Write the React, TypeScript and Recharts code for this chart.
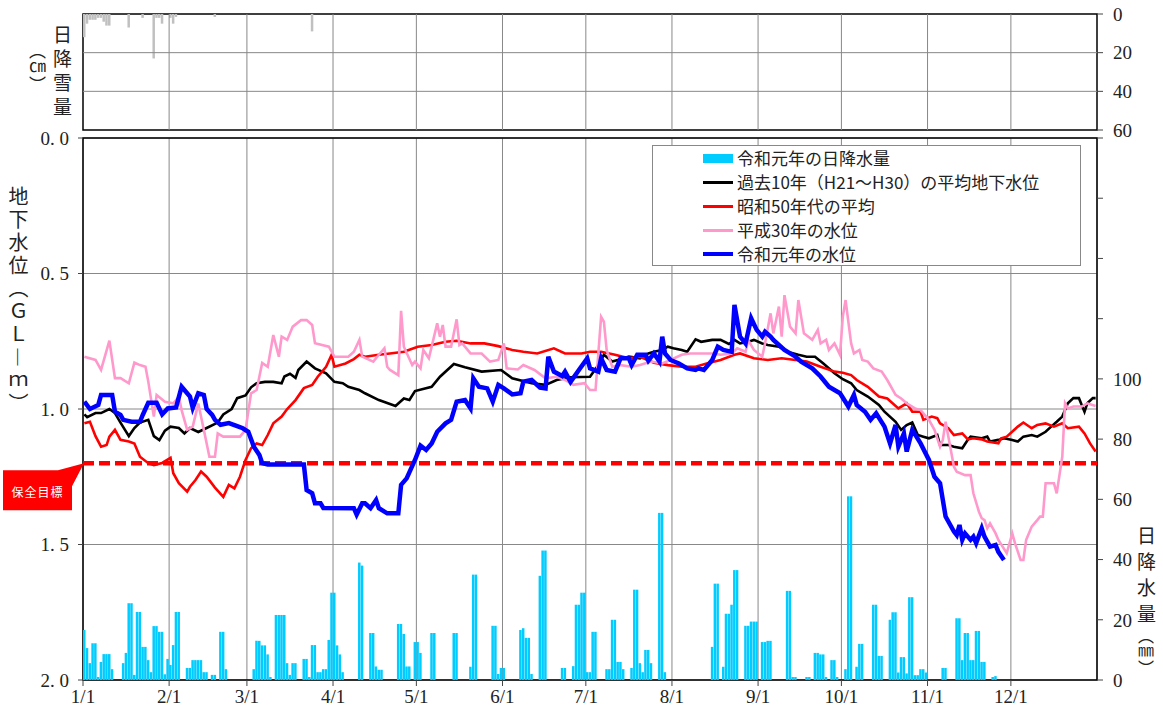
import React from 'react'
import { ComposedChart, Bar, Line, XAxis, YAxis, CartesianGrid, ReferenceLine, ReferenceArea, Legend } from 'recharts'

// day index: 0 = 1/1 ... 364 = 12/31 (2019)
const monthStarts = [0, 31, 59, 90, 120, 151, 181, 212, 243, 273, 304, 334]
const monthLabels = ['1/1', '2/1', '3/1', '4/1', '5/1', '6/1', '7/1', '8/1', '9/1', '10/1', '11/1', '12/1']
const depthTicks = [0, 0.5, 1, 1.5, 2]
const rainTicks = [0, 20, 40, 60, 80, 100, 120, 140, 160, 180]
const snowTicks = [0, 20, 40, 60]
const targetLevel = 1.2

// [day, cm]
const snowfall: [number, number][] = [
  [0, 12], [1, 5], [2, 3], [3, 3], [4, 3], [5, 2], [6, 2], [7, 4], [8, 6], [9, 6],
  [16, 7], [21, 2], [25, 23], [26, 2], [27, 2], [28, 5], [31, 2], [32, 5], [33, 1.5],
  [47, 1.5], [82, 9],
]

// [day, mm]
const rainfall: [number, number][] = [
  [0, 16.6], [1, 10.6], [2, 5.6], [3, 12.2], [4, 12.2], [5, 1], [6, 6], [7, 8.6], [8, 8.6], [9, 8.6], [10, 3.6],
  [14, 5.6], [15, 9], [16, 25.5], [17, 25.5], [18, 1.7], [19, 22.6], [20, 22.6], [21, 11], [22, 11], [23, 6.6],
  [24, 2.6], [25, 17.9], [26, 17.9], [27, 16], [28, 16], [29, 1.9], [30, 7], [31, 5], [32, 11.6], [33, 22.6], [34, 22.6],
  [37, 4], [38, 4], [39, 6.6], [40, 6.6], [41, 6.6], [42, 6.6], [43, 2.6], [44, 2.6], [46, 1.7], [47, 1.7],
  [49, 16], [50, 16], [51, 3.6],
  [61, 3.6], [62, 13], [63, 13], [64, 11.5], [65, 11.5], [66, 8.5], [67, 1],
  [69, 21.6], [70, 21.6], [71, 21.6], [72, 21.6], [73, 5.6], [74, 1.7], [75, 5.6], [76, 5.6],
  [79, 7], [80, 7], [81, 1], [82, 11.6], [83, 11.6], [84, 2.6], [85, 2.6], [86, 3.6], [87, 3.6], [88, 13.3],
  [89, 29], [90, 29], [91, 11.5], [92, 8.5], [93, 2.6],
  [99, 39], [100, 38], [103, 15.6], [104, 15.6], [105, 4.5], [106, 3.4], [107, 3.4],
  [113, 18.6], [114, 18.6], [115, 15.3], [116, 4.5], [117, 4.5], [119, 12.6], [120, 12.6], [121, 9],
  [125, 15.6], [126, 15.6], [133, 15.6], [134, 15.6], [139, 4.4], [140, 35], [141, 35],
  [147, 18], [148, 18], [149, 2], [150, 4], [151, 4],
  [157, 16.6], [158, 17.2], [159, 14], [160, 14], [161, 2], [164, 34.6], [165, 43], [166, 43],
  [172, 4], [173, 4], [176, 4.6], [177, 25], [178, 25], [179, 29], [180, 29], [181, 2.6], [182, 2.6], [183, 16], [184, 16],
  [188, 3.6], [189, 3.6], [190, 20], [191, 20], [192, 6], [193, 6], [194, 3.6],
  [197, 4], [198, 30], [199, 30], [200, 5.6], [201, 2.6], [202, 10], [203, 10], [204, 5.6],
  [207, 55.5], [208, 55.5], [209, 2.6],
  [226, 11], [227, 32], [228, 32], [230, 4.4], [231, 22], [232, 22], [233, 25], [234, 36.5], [235, 36.5],
  [238, 18], [239, 18], [240, 19.4], [241, 19.4], [242, 19.4], [244, 12.6], [245, 12.6], [246, 13], [247, 13],
  [253, 29.6], [254, 29.6], [255, 1], [256, 1], [260, 1], [261, 1], [263, 9], [264, 9], [265, 8.5], [266, 8.5],
  [267, 1], [269, 6.6], [270, 6.6], [271, 1],
  [274, 3.6], [275, 61], [276, 61], [278, 4.4], [279, 12], [280, 12], [284, 25], [285, 25], [286, 8], [287, 8],
  [290, 20], [291, 22.5], [292, 22.5], [293, 2.5], [294, 7.6], [295, 7.6], [296, 2.2], [297, 27.5], [298, 27.5],
  [299, 1.6], [300, 1.6], [301, 3.6], [302, 3.6], [303, 2.5],
  [309, 4], [310, 4], [314, 20.5], [315, 20.5], [316, 6.6], [317, 15.6], [318, 15.6], [319, 6.6], [320, 6.6],
  [321, 16.3], [322, 16.3], [323, 6], [324, 6], [327, 1], [328, 1.3],
]

// groundwater level, GL -m : [day, m]
const avgH21H30: [number, number][] = [
  [0, 1.02], [1, 1.03], [4, 1.015], [6, 1.015], [9, 1.0], [11, 1.015], [13, 1.05], [16, 1.1], [18, 1.07], [20, 1.05],
  [23, 1.04], [25, 1.1], [27, 1.115], [29, 1.08], [31, 1.065], [34, 1.07], [36, 1.09], [38, 1.07], [41, 1.085],
  [44, 1.07], [48, 1.05], [50, 1.02], [53, 1.0], [55, 0.96], [58, 0.95], [60, 0.92], [62, 0.905], [65, 0.9], [68, 0.9],
  [71, 0.905], [72, 0.88], [74, 0.87], [76, 0.885], [77, 0.856], [80, 0.825], [83, 0.85], [87, 0.868], [90, 0.9],
  [93, 0.905], [95, 0.918], [99, 0.93], [101, 0.942], [106, 0.967], [112, 0.989], [115, 0.961], [117, 0.967],
  [119, 0.934], [125, 0.918], [128, 0.881], [133, 0.834], [137, 0.846], [143, 0.862], [150, 0.856], [154, 0.887],
  [161, 0.905], [166, 0.911], [170, 0.893], [175, 0.883], [182, 0.881], [185, 0.838], [187, 0.8], [190, 0.825],
  [192, 0.819], [196, 0.807], [200, 0.813], [203, 0.795], [205, 0.789], [208, 0.782], [210, 0.77], [212, 0.776],
  [215, 0.782], [217, 0.789], [220, 0.743], [222, 0.752], [226, 0.745], [229, 0.745], [232, 0.76], [234, 0.745],
  [236, 0.758], [239, 0.752], [241, 0.745], [244, 0.758], [246, 0.764], [250, 0.77], [253, 0.789], [257, 0.8],
  [260, 0.807], [263, 0.807], [266, 0.832], [270, 0.868], [273, 0.89], [276, 0.905], [278, 0.93], [282, 0.954],
  [286, 0.985], [288, 1.01], [292, 1.047], [294, 1.077], [296, 1.059], [298, 1.05], [300, 1.096], [302, 1.102],
  [304, 1.108], [307, 1.096], [308, 1.133], [311, 1.133], [313, 1.139], [316, 1.145], [318, 1.114], [319, 1.102],
  [323, 1.108], [325, 1.102], [326, 1.12], [329, 1.114], [331, 1.108], [334, 1.114], [336, 1.12], [338, 1.102],
  [341, 1.096], [343, 1.102], [346, 1.084], [348, 1.065], [350, 1.047], [352, 1.028], [354, 0.979], [356, 0.96],
  [358, 0.96], [359, 0.985], [360, 1.01], [361, 0.979], [363, 0.96], [364, 0.96],
]

const showa50s: [number, number][] = [
  [0, 1.053], [2, 1.047], [4, 1.1], [6, 1.139], [8, 1.133], [9, 1.102], [11, 1.077], [13, 1.114], [16, 1.12],
  [18, 1.127], [20, 1.176], [23, 1.2], [25, 1.207], [28, 1.199], [31, 1.18], [32, 1.237], [34, 1.274], [37, 1.305],
  [38, 1.287], [40, 1.262], [42, 1.231], [44, 1.25], [47, 1.29], [50, 1.324], [52, 1.28], [54, 1.293], [56, 1.25],
  [58, 1.188], [60, 1.145], [62, 1.127], [64, 1.133], [66, 1.096], [68, 1.053], [71, 1.028], [73, 1.0], [76, 0.967],
  [79, 0.923], [82, 0.911], [84, 0.881], [87, 0.844], [89, 0.8], [90, 0.844], [94, 0.832], [97, 0.816], [99, 0.8],
  [101, 0.807], [106, 0.8], [110, 0.795], [115, 0.789], [120, 0.77], [125, 0.764], [130, 0.752], [134, 0.748],
  [139, 0.758], [144, 0.758], [149, 0.768], [154, 0.782], [158, 0.789], [163, 0.795], [169, 0.776], [173, 0.795],
  [179, 0.795], [182, 0.789], [186, 0.789], [191, 0.8], [196, 0.813], [200, 0.807], [205, 0.829], [210, 0.838],
  [215, 0.844], [220, 0.844], [224, 0.832], [229, 0.819], [234, 0.8], [236, 0.795], [241, 0.813], [246, 0.819],
  [251, 0.813], [256, 0.819], [260, 0.825], [265, 0.844], [270, 0.862], [273, 0.866], [276, 0.875], [278, 0.893],
  [282, 0.918], [286, 0.954], [289, 0.961], [293, 0.998], [296, 0.979], [298, 1.01], [301, 1.01], [302, 1.04],
  [305, 1.028], [307, 1.034], [308, 1.053], [311, 1.071], [313, 1.096], [316, 1.09], [318, 1.112], [320, 1.108],
  [323, 1.112], [325, 1.12], [329, 1.127], [330, 1.108], [332, 1.102], [336, 1.065], [338, 1.05], [341, 1.071],
  [343, 1.059], [346, 1.053], [349, 1.065], [352, 1.053], [354, 1.071], [358, 1.065], [360, 1.09], [362, 1.127],
  [364, 1.157],
]

const heisei30: [number, number][] = [
  [0, 0.807], [4, 0.819], [6, 0.856], [9, 0.748], [11, 0.886], [13, 0.886], [16, 0.905], [18, 0.829], [20, 0.838],
  [22, 0.844], [23, 0.899], [25, 1.028], [26, 0.948], [29, 0.973], [32, 0.979], [34, 0.955], [35, 1.004], [37, 1.077],
  [39, 1.065], [41, 0.98], [43, 1.077], [45, 1.176], [47, 1.176], [48, 1.09], [49, 1.096], [50, 1.102], [56, 1.102],
  [58, 1.077], [60, 0.942], [62, 0.93], [64, 0.83], [66, 0.844], [68, 0.727], [70, 0.807], [71, 0.733], [73, 0.745],
  [75, 0.696], [78, 0.672], [80, 0.672], [82, 0.69], [83, 0.757], [88, 0.77], [90, 0.807], [95, 0.807], [97, 0.789],
  [99, 0.745], [100, 0.807], [104, 0.825], [106, 0.8], [108, 0.776], [109, 0.844], [110, 0.856], [113, 0.875],
  [114, 0.638], [115, 0.77], [118, 0.838], [119, 0.825], [121, 0.85], [122, 0.782], [124, 0.813], [127, 0.684],
  [128, 0.733], [129, 0.69], [130, 0.77], [132, 0.77], [134, 0.669], [135, 0.764], [136, 0.758], [139, 0.795],
  [143, 0.795], [146, 0.825], [149, 0.819], [151, 0.758], [152, 0.85], [156, 0.854], [158, 0.838], [162, 0.856],
  [166, 0.887], [170, 0.881], [173, 0.893], [176, 0.911], [180, 0.905], [182, 0.93], [184, 0.93], [186, 0.66],
  [187, 0.678], [188, 0.782], [190, 0.844], [193, 0.838], [197, 0.844], [200, 0.838], [204, 0.825], [208, 0.832],
  [211, 0.819], [215, 0.8], [218, 0.795], [222, 0.795], [226, 0.795], [229, 0.8], [233, 0.795], [235, 0.776],
  [238, 0.789], [239, 0.747], [241, 0.782], [244, 0.807], [245, 0.758], [247, 0.647], [248, 0.721], [250, 0.622],
  [251, 0.733], [252, 0.58], [254, 0.696], [256, 0.721], [257, 0.598], [259, 0.721], [262, 0.745], [264, 0.708],
  [265, 0.758], [267, 0.745], [268, 0.782], [270, 0.758], [272, 0.8], [273, 0.659], [274, 0.598], [276, 0.758],
  [277, 0.795], [279, 0.782], [280, 0.819], [282, 0.825], [284, 0.85], [287, 0.862], [289, 0.893], [292, 0.948],
  [294, 0.961], [296, 0.979], [299, 0.998], [301, 1.004], [304, 1.04], [306, 1.077], [308, 1.139], [309, 1.114],
  [310, 1.047], [311, 1.102], [313, 1.213], [314, 1.231], [317, 1.244], [319, 1.244], [320, 1.311], [322, 1.379],
  [323, 1.403], [324, 1.41], [325, 1.44], [326, 1.422], [328, 1.459], [329, 1.483], [332, 1.532], [333, 1.496],
  [334, 1.459], [335, 1.496], [337, 1.557], [338, 1.557], [339, 1.483], [341, 1.434], [343, 1.41], [344, 1.397],
  [345, 1.397], [346, 1.274], [349, 1.274], [350, 1.311], [352, 1.176], [353, 0.979], [354, 0.998], [356, 0.991],
  [359, 0.991], [361, 0.979], [364, 0.989],
]

const reiwa1: [number, number][] = [
  [0, 0.973], [2, 1.0], [5, 0.985], [6, 0.948], [10, 0.948], [11, 1.01], [13, 1.022], [14, 1.04], [17, 1.047],
  [20, 1.047], [21, 1.022], [23, 0.977], [26, 0.977], [28, 1.02], [30, 0.998], [33, 0.994], [35, 0.918], [36, 0.93],
  [38, 0.954], [39, 0.996], [41, 0.942], [43, 0.948], [44, 1.0], [46, 1.022], [47, 1.04], [49, 1.058], [52, 1.052],
  [55, 1.063], [57, 1.071], [59, 1.084], [61, 1.139], [63, 1.17], [64, 1.2], [66, 1.205], [79, 1.205], [80, 1.299],
  [82, 1.311], [83, 1.348], [85, 1.348], [86, 1.365], [97, 1.366], [98, 1.39], [100, 1.348], [101, 1.348],
  [103, 1.366], [105, 1.336], [106, 1.366], [109, 1.385], [113, 1.385], [114, 1.28], [116, 1.256], [119, 1.188],
  [121, 1.135], [123, 1.151], [125, 1.127], [127, 1.084], [130, 1.053], [132, 1.04], [134, 0.973], [137, 0.967],
  [139, 0.998], [140, 0.887], [142, 0.918], [145, 0.924], [147, 0.973], [149, 0.911], [151, 0.924], [154, 0.946],
  [157, 0.942], [158, 0.899], [161, 0.893], [164, 0.921], [166, 0.924], [167, 0.807], [169, 0.862], [172, 0.878],
  [173, 0.862], [175, 0.9], [178, 0.856], [181, 0.813], [182, 0.85], [185, 0.862], [186, 0.813], [188, 0.856],
  [191, 0.862], [193, 0.813], [196, 0.813], [197, 0.838], [199, 0.8], [202, 0.8], [203, 0.822], [205, 0.795],
  [207, 0.825], [208, 0.733], [209, 0.795], [211, 0.819], [214, 0.832], [217, 0.85], [220, 0.856], [221, 0.85],
  [223, 0.856], [226, 0.819], [228, 0.77], [230, 0.782], [233, 0.789], [234, 0.616], [236, 0.733], [238, 0.758],
  [240, 0.665], [242, 0.708], [244, 0.733], [245, 0.715], [247, 0.733], [248, 0.745], [252, 0.782], [256, 0.807],
  [258, 0.825], [262, 0.85], [265, 0.88], [268, 0.918], [270, 0.93], [272, 0.942], [275, 0.991], [277, 0.948],
  [278, 0.985], [281, 1.01], [283, 1.04], [285, 1.016], [288, 1.065], [290, 1.127], [292, 1.059], [293, 1.139],
  [295, 1.09], [296, 1.157], [298, 1.077], [301, 1.127], [304, 1.188], [306, 1.25], [308, 1.274], [310, 1.397],
  [313, 1.452], [314, 1.465], [315, 1.428], [316, 1.483], [317, 1.459], [319, 1.483], [320, 1.471], [321, 1.495],
  [323, 1.44], [324, 1.471], [326, 1.508], [328, 1.502], [329, 1.527], [331, 1.557],
]

const legendItems = [
  { label: '令和元年の日降水量', color: '#00ccff', bar: true, w: 0 },
  { label: '過去10年（H21～H30）の平均地下水位', color: '#000000', bar: false, w: 3 },
  { label: '昭和50年代の平均', color: '#ff0000', bar: false, w: 3 },
  { label: '平成30年の水位', color: '#ff99cc', bar: false, w: 3 },
  { label: '令和元年の水位', color: '#0000ff', bar: false, w: 4.5 },
]

const serif = '"Liberation Serif", "DejaVu Serif", serif'
const cjk = '"Noto Sans CJK JP", "Noto Sans", sans-serif'
const tickStyle = { fontFamily: serif, fontSize: 19, fill: '#222' }

const toMap = (pairs: [number, number][]) => new Map(pairs)
const snowMap = toMap(snowfall)
const rainMap = toMap(rainfall)
const blackMap = toMap(avgH21H30)
const redMap = toMap(showa50s)
const pinkMap = toMap(heisei30)
const blueMap = toMap(reiwa1)

const rows = Array.from({ length: 365 }, (_, d) => ({
  x: d + 0.5,
  snow: snowMap.get(d) ?? null,
  rain: rainMap.get(d) ?? null,
  black: blackMap.get(d) ?? null,
  red: redMap.get(d) ?? null,
  pink: pinkMap.get(d) ?? null,
  blue: blueMap.get(d) ?? null,
}))

function TargetCallout(props: any) {
  const vb = props.viewBox || {}
  const x0 = vb.x ?? 83
  const y0 = vb.y ?? 343
  const left = x0 - 80
  const top = y0 + 7
  const w = 69
  const h = 40
  const pts = [
    [left, top], [left + w - 14, top], [x0 + 1, y0], [left + w, top + 16], [left + w, top + h], [left, top + h],
  ].map((p) => p.join(',')).join(' ')
  return (
    <g>
      <polygon points={pts} fill="#ff0000" />
      <text x={left + w / 2} y={top + h / 2 + 1} fill="#fff" fontSize={12} fontFamily={cjk}
        textAnchor="middle" dominantBaseline="central" letterSpacing={1}>保全目標</text>
    </g>
  )
}

function LegendBox() {
  return (
    <div style={{ width: 429, height: 121, boxSizing: 'border-box', border: '1px solid #888', background: '#fff', fontFamily: cjk, fontSize: 17, color: '#222' }}>
      {legendItems.map((it) => (
        <div key={it.label} style={{ display: 'flex', alignItems: 'center', height: 24, paddingLeft: 50 }}>
          <div style={{ width: 30, height: it.bar ? 9 : it.w, background: it.color, marginRight: 4 }} />
          <span style={{ lineHeight: '24px', whiteSpace: 'nowrap' }}>{it.label}</span>
        </div>
      ))}
    </div>
  )
}

const vLabel: React.CSSProperties = { position: 'absolute', writingMode: 'vertical-rl', fontFamily: cjk, color: '#222', lineHeight: 1 }

export default function App() {
  return (
    <div style={{ position: 'absolute', left: 0, top: 0, width: 1163, height: 716, background: '#fff' }}>
      {/* snowfall panel */}
      <div style={{ position: 'absolute', left: 0, top: 0 }}>
        <ComposedChart width={1163} height={142} data={rows} margin={{ top: 14, right: 0, bottom: 12, left: 83 }}>
          <XAxis type="number" dataKey="x" domain={[0, 365]} hide />
          <YAxis orientation="right" domain={[0, 60]} reversed ticks={snowTicks} width={66} axisLine={false}
            tickSize={6} tickMargin={10} tick={tickStyle} tickLine={{ stroke: '#444' }} interval={0} />
          {snowTicks.slice(1, -1).map((t) => (
            <ReferenceLine key={'h' + t} y={t} stroke="#888" strokeWidth={1} />
          ))}
          {monthStarts.slice(1).map((m) => (
            <ReferenceLine key={'v' + m} x={m} stroke="#888" strokeWidth={1} />
          ))}
          <Bar dataKey="snow" fill="#c0c0c0" barSize={3} isAnimationActive={false} />
          <ReferenceArea x1={0} x2={365} y1={0} y2={60} fill="none" stroke="#000" strokeWidth={1.5} fillOpacity={0} />
        </ComposedChart>
      </div>

      {/* groundwater / rainfall panel */}
      <div style={{ position: 'absolute', left: 0, top: 120 }}>
        <ComposedChart width={1163} height={596} data={rows} margin={{ top: 18, right: 0, bottom: 6, left: 0 }}>
          <CartesianGrid stroke="#888" strokeWidth={1} />
          <XAxis type="number" dataKey="x" domain={[0, 365]} ticks={monthStarts} interval={0} height={30}
            tickFormatter={(v: number) => monthLabels[monthStarts.indexOf(v)] ?? ''}
            tick={tickStyle} tickSize={6} tickMargin={4} axisLine={false} tickLine={{ stroke: '#444' }} />
          <YAxis domain={[0, 2]} reversed ticks={depthTicks} interval={0} width={83}
            tickFormatter={(v: number) => v.toFixed(1).replace('.', '. ')}
            tick={tickStyle} tickSize={5} tickMargin={9} axisLine={false} tickLine={{ stroke: '#444' }} />
          <YAxis yAxisId="rain" orientation="right" domain={[0, 180]} ticks={rainTicks} interval={0} width={66}
            tickFormatter={(v: number) => (v <= 100 ? String(v) : '')}
            tick={tickStyle} tickSize={6} tickMargin={10} axisLine={false} tickLine={{ stroke: '#444' }} />
          <Bar yAxisId="rain" dataKey="rain" fill="#00ccff" barSize={3} isAnimationActive={false} />
          <ReferenceLine y={targetLevel} stroke="#ff0000" strokeWidth={4.5} strokeDasharray="11 5"
            label={<TargetCallout />} />
          <Line dataKey="black" stroke="#000000" strokeWidth={2.6} dot={false} connectNulls type="linear" isAnimationActive={false} />
          <Line dataKey="red" stroke="#ff0000" strokeWidth={2.6} dot={false} connectNulls type="linear" isAnimationActive={false} />
          <Line dataKey="pink" stroke="#ff99cc" strokeWidth={2.6} dot={false} connectNulls type="linear" isAnimationActive={false} />
          <Line dataKey="blue" stroke="#0000ff" strokeWidth={4.5} dot={false} connectNulls type="linear" isAnimationActive={false} />
          <ReferenceArea x1={0} x2={365} y1={0} y2={2} fill="none" fillOpacity={0} stroke="#000" strokeWidth={1.5} />
          <Legend layout="horizontal" verticalAlign="middle" align="center"
            wrapperStyle={{ left: 652, top: 25, width: 429, height: 121 }} content={() => <LegendBox />} />
        </ComposedChart>
      </div>

      {/* axis titles */}
      <div style={{ ...vLabel, left: 53, top: 25, fontSize: 19, letterSpacing: 5 }}>日降雪量</div>
      <div style={{ ...vLabel, left: 29, top: 42, fontSize: 17 }}>（㎝）</div>
      <div style={{ ...vLabel, left: 8, top: 186, fontSize: 20, letterSpacing: 3 }}>地下水位（ＧＬ―ｍ）</div>
      <div style={{ ...vLabel, left: 1137, top: 526, fontSize: 19, letterSpacing: 7 }}>日降水量</div>
      <div style={{ ...vLabel, left: 1138, top: 628, fontSize: 16 }}>（㎜）</div>
    </div>
  )
}
